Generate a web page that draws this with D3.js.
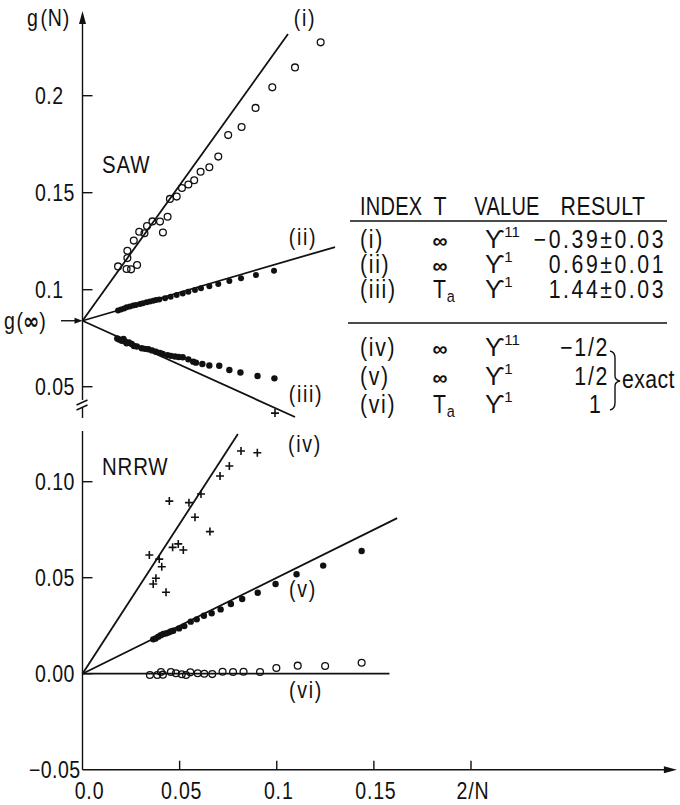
<!DOCTYPE html>
<html>
<head>
<meta charset="utf-8">
<script src="https://cdn.jsdelivr.net/npm/d3@7"></script>
<style>
  body { margin: 0; background: #fff; }
  svg { display: block; }
  text { font-family: "Liberation Sans", Arial, sans-serif; fill: #111; }
</style>
</head>
<body>
<div id="chart"></div>
<script>
// g(infinity), common intercept of the SAW fits
const gInf = 0.084;

// SAW, (i) open circles
const sawI = [
  [0.0183, 0.1120], [0.0227, 0.1107], [0.0250, 0.1105], [0.0281, 0.1127],
  [0.0231, 0.1163], [0.0231, 0.1201], [0.0264, 0.1253], [0.0292, 0.1299],
  [0.0319, 0.1291], [0.0332, 0.1328], [0.0360, 0.1352], [0.0399, 0.1351],
  [0.0414, 0.1295], [0.0438, 0.1376], [0.0450, 0.1468], [0.0485, 0.1480],
  [0.0512, 0.1524], [0.0545, 0.1542], [0.0575, 0.1564], [0.0608, 0.1608],
  [0.0653, 0.1631], [0.0699, 0.1686], [0.0750, 0.1797], [0.0819, 0.1839],
  [0.0891, 0.1937], [0.0977, 0.2043], [0.1094, 0.2146], [0.1226, 0.2275],
];
// SAW, (ii) filled dots
const sawII = [
  [0.0183, 0.0893], [0.0198, 0.0898], [0.0214, 0.0903], [0.0227, 0.0909],
  [0.0244, 0.0913], [0.0261, 0.0918], [0.0275, 0.0921], [0.0296, 0.0926],
  [0.0311, 0.0930], [0.0330, 0.0935], [0.0347, 0.0939], [0.0364, 0.0943],
  [0.0378, 0.0947], [0.0395, 0.0950], [0.0425, 0.0956], [0.0454, 0.0964],
  [0.0485, 0.0973], [0.0516, 0.0981], [0.0545, 0.0990], [0.0579, 0.0998],
  [0.0610, 0.1007], [0.0653, 0.1018], [0.0699, 0.1029], [0.0756, 0.1045],
  [0.0816, 0.1059], [0.0893, 0.1076], [0.0986, 0.1098],
];
// SAW, (iii) filled dots
const sawIII = [
  [0.0179, 0.0749], [0.0188, 0.0743], [0.0202, 0.0737], [0.0211, 0.0746],
  [0.0219, 0.0733], [0.0227, 0.0724], [0.0239, 0.0728], [0.0253, 0.0720],
  [0.0265, 0.0710], [0.0280, 0.0707], [0.0305, 0.0698], [0.0322, 0.0695],
  [0.0339, 0.0693], [0.0358, 0.0687], [0.0378, 0.0680], [0.0399, 0.0674],
  [0.0413, 0.0669], [0.0438, 0.0663], [0.0455, 0.0659], [0.0476, 0.0656],
  [0.0495, 0.0653], [0.0516, 0.0652], [0.0545, 0.0641], [0.0570, 0.0629],
  [0.0584, 0.0624], [0.0617, 0.0617], [0.0653, 0.0609], [0.0704, 0.0608],
  [0.0756, 0.0586], [0.0813, 0.0573], [0.0901, 0.0555], [0.0988, 0.0543],
];
const sawCross = [[0.0991, 0.0364]];

// NRRW, (iv) crosses
const nrrwIV = [
  [0.0900, 0.1151], [0.0816, 0.1160], [0.0756, 0.1082], [0.0708, 0.1030],
  [0.0656, 0.0740], [0.0610, 0.0936], [0.0579, 0.0815], [0.0548, 0.0891],
  [0.0519, 0.0644], [0.0493, 0.0676], [0.0464, 0.0658], [0.0447, 0.0899],
  [0.0430, 0.0424], [0.0408, 0.0557], [0.0395, 0.0597], [0.0378, 0.0497],
  [0.0364, 0.0467], [0.0344, 0.0618],
];
// NRRW, (v) filled dots
const nrrwV = [
  [0.1437, 0.0639], [0.1239, 0.0563], [0.1102, 0.0518], [0.0994, 0.0467],
  [0.0902, 0.0422], [0.0822, 0.0389], [0.0764, 0.0363], [0.0711, 0.0335],
  [0.0665, 0.0315], [0.0625, 0.0302], [0.0588, 0.0283], [0.0557, 0.0271],
  [0.0524, 0.0248], [0.0497, 0.0236], [0.0467, 0.0224], [0.0442, 0.0214],
  [0.0416, 0.0207], [0.0390, 0.0193], [0.0364, 0.0179], [0.0376, 0.0183],
  [0.0403, 0.0200], [0.0429, 0.0210], [0.0454, 0.0220],
];
// NRRW, (vi) open circles
const nrrwVI = [
  [0.1437, 0.0057], [0.1249, 0.0040], [0.1108, 0.0042], [0.0998, 0.0030],
  [0.0914, 0.0009], [0.0829, 0.0010], [0.0775, 0.0009], [0.0721, 0.0010],
  [0.0668, -0.0002], [0.0627, 0.0000], [0.0593, 0.0002], [0.0555, 0.0007],
  [0.0533, -0.0007], [0.0511, -0.0003], [0.0481, 0.0002], [0.0455, 0.0009],
  [0.0414, -0.0005], [0.0404, 0.0009], [0.0385, -0.0007], [0.0347, -0.0007],
];

// straight-line fits [x0, y0, x1, y1]
const sawFits = [
  [0, gInf, 0.1058, 0.2318],
  [0, gInf, 0.1300, 0.1220],
  [0, gInf, 0.1094, 0.0344],
];
const nrrwFits = [
  [0, 0, 0.0800, 0.1248],
  [0, 0, 0.1620, 0.0810],
  [0, 0, 0.1580, 0.0],
];

const xTicks = [0.05, 0.1, 0.15, 0.2];
const xTickLabels = ["0.0", "0.05", "0.1", "0.15", "2/N"];
const sawTicks = [0.2, 0.15, 0.1, 0.05];
const sawTickLabels = ["0.2", "0.15", "0.1", "0.05"];
const nrrwTicks = [0.1, 0.05, 0.0];
const nrrwTickLabels = ["0.10", "0.05", "0.00", "\u22120.05"];

const tableIndex = ["(i)", "(ii)", "(iii)", "(iv)", "(v)", "(vi)"];
const tableT = ["inf", "inf", "Ta", "inf", "inf", "Ta"];
const tableValueSup = ["11", "1", "1", "11", "1", "1"];
const tableResult = ["\u22120.39\u00b10.03", "0.69\u00b10.01", "1.44\u00b10.03", "\u22121/2", "1/2", "1"];

const width = 680;
const height = 805;
const ink = "#111";
const squeeze = 0.85; // condensed look of the original lettering
const labelSize = 23;

const x = d3.scaleLinear().domain([0, 0.2]).range([82.5, 471]);
const ySaw = d3.scaleLinear().domain([0.05, 0.2]).range([386.7, 95.7]);
const yNrrw = d3.scaleLinear().domain([-0.05, 0.1]).range([769.7, 481.7]);

const svg = d3
  .select("#chart")
  .append("svg")
  .attr("width", width)
  .attr("height", height);

function place(px, py, sx = squeeze) {
  return `translate(${px},${py}) scale(${sx},1)`;
}
function label(parent, px, py, s, size = labelSize, anchor = "start", ls = 0, sx = squeeze) {
  return parent
    .append("text")
    .attr("transform", place(px, py, sx))
    .attr("text-anchor", anchor)
    .attr("font-size", size)
    .attr("letter-spacing", ls)
    .text(s);
}

const axisG = svg.append("g").attr("stroke", ink).attr("stroke-width", 1.4).attr("fill", "none");
const x0 = x(0);
const yBase = yNrrw(-0.05);

// y axis, SAW part with arrow and break
axisG.append("line").attr("x1", x0).attr("x2", x0).attr("y1", 20).attr("y2", 400);
svg.append("path").attr("fill", ink)
  .attr("d", `M${x0},11L${x0 - 3.5},24L${x0 + 3.5},24Z`);
axisG.append("line").attr("x1", x0 - 6).attr("x2", x0 + 5).attr("y1", 405).attr("y2", 400);
axisG.append("line").attr("x1", x0 - 6).attr("x2", x0 + 5).attr("y1", 410).attr("y2", 405);
axisG.append("line").attr("x1", x0).attr("x2", x0).attr("y1", 408).attr("y2", 418);
// y axis, NRRW part
axisG.append("line").attr("x1", x0).attr("x2", x0).attr("y1", 431).attr("y2", yBase);
// x axis with arrow
const xEnd = x(0.306);
axisG.append("line").attr("x1", x0).attr("x2", xEnd - 8).attr("y1", yBase).attr("y2", yBase);
svg.append("path").attr("fill", ink)
  .attr("d", `M${xEnd},${yBase}L${xEnd - 13},${yBase - 3.5}L${xEnd - 13},${yBase + 3.5}Z`);

// ticks
axisG.selectAll(".xt").data(xTicks).join("line")
  .attr("x1", (d) => x(d)).attr("x2", (d) => x(d))
  .attr("y1", yBase).attr("y2", yBase - 9);
axisG.selectAll(".st").data(sawTicks).join("line")
  .attr("x1", x0).attr("x2", x0 + 10)
  .attr("y1", (d) => ySaw(d)).attr("y2", (d) => ySaw(d));
axisG.selectAll(".nt").data(nrrwTicks).join("line")
  .attr("x1", x0).attr("x2", x0 + 10)
  .attr("y1", (d) => yNrrw(d)).attr("y2", (d) => yNrrw(d));

// tick labels
svg.selectAll(".xl").data([0].concat(xTicks)).join("text")
  .attr("transform", (d, i) => place(x(d) + (i === 0 ? 7 : 2), 799))
  .attr("text-anchor", "middle").attr("font-size", labelSize)
  .attr("letter-spacing", 1)
  .text((d, i) => xTickLabels[i]);
svg.selectAll(".sl").data(sawTicks).join("text")
  .attr("transform", (d) => place(35, ySaw(d) + 8))
  .attr("font-size", labelSize).attr("letter-spacing", 0.5)
  .text((d, i) => sawTickLabels[i]);
svg.selectAll(".nl").data(nrrwTicks).join("text")
  .attr("transform", (d) => place(35, yNrrw(d) + 8))
  .attr("font-size", labelSize).attr("letter-spacing", 0.5)
  .text((d, i) => nrrwTickLabels[i]);
label(svg, x0 - 2, yBase + 8, nrrwTickLabels[3], labelSize, "end", 0.5);

// axis titles
const gn = label(svg, 27, 26, "g", labelSize, "start", 1);
gn.append("tspan").attr("dx", 2).text("(N)");
const gi = label(svg, 4, ySaw(gInf) + 8, "g", labelSize, "start", 0);
gi.append("tspan").attr("dx", 2).text("(");
gi.append("tspan").attr("font-family", "DejaVu Sans").attr("font-weight", "bold").text("\u221e");
gi.append("tspan").text(")");
axisG.append("line").attr("x1", 61).attr("x2", x0 - 5).attr("y1", ySaw(gInf)).attr("y2", ySaw(gInf));
svg.append("path").attr("fill", ink)
  .attr("d", `M${x0},${ySaw(gInf)}L${x0 - 8},${ySaw(gInf) - 3}L${x0 - 8},${ySaw(gInf) + 3}Z`);

label(svg, 102, 173, "SAW", 24, "start", 1);
label(svg, 102, 475, "NRRW", 24, "start", 1);

// fit lines
const fitsG = svg.append("g").attr("stroke", ink).attr("stroke-width", 1.8);
fitsG.selectAll(".sf").data(sawFits).join("line")
  .attr("x1", (d) => x(d[0])).attr("y1", (d) => ySaw(d[1]))
  .attr("x2", (d) => x(d[2])).attr("y2", (d) => ySaw(d[3]));
fitsG.selectAll(".nf").data(nrrwFits).join("line")
  .attr("x1", (d) => x(d[0])).attr("y1", (d) => yNrrw(d[1]))
  .attr("x2", (d) => x(d[2])).attr("y2", (d) => yNrrw(d[3]));

// markers
function openCircles(data, y) {
  svg.append("g").selectAll("circle").data(data).join("circle")
    .attr("cx", (d) => x(d[0])).attr("cy", (d) => y(d[1])).attr("r", 3.4)
    .attr("fill", "none").attr("stroke", ink).attr("stroke-width", 1.3);
}
function dots(data, y, r) {
  svg.append("g").selectAll("circle").data(data).join("circle")
    .attr("cx", (d) => x(d[0])).attr("cy", (d) => y(d[1])).attr("r", r)
    .attr("fill", ink);
}
function crosses(data, y) {
  svg.append("g").selectAll("path").data(data).join("path")
    .attr("d", (d) => `M${x(d[0]) - 4},${y(d[1])}h8M${x(d[0])},${y(d[1]) - 4}v8`)
    .attr("stroke", ink).attr("stroke-width", 1.6);
}
openCircles(sawI, ySaw);
dots(sawII, ySaw, 3);
dots(sawIII, ySaw, 3.2);
crosses(sawCross, ySaw);
crosses(nrrwIV, yNrrw);
dots(nrrwV, yNrrw, 3.2);
openCircles(nrrwVI, yNrrw);

// curve labels
const curveLabels = [
  ["(i)", 305, 26], ["(ii)", 303, 245], ["(iii)", 306, 402],
  ["(iv)", 305, 452], ["(v)", 303, 597], ["(vi)", 306, 698],
];
curveLabels.forEach((d) => label(svg, d[1], d[2], d[0], labelSize, "middle", 2));

// table
const tableSize = 25;
const tableG = svg.append("g");
label(tableG, 360, 215, "INDEX", tableSize, "start", 0.3, 0.8);
label(tableG, 440, 215, "T", tableSize, "middle");
label(tableG, 507, 215, "VALUE", tableSize, "middle", 0.3, 0.8);
label(tableG, 603, 215, "RESULT", tableSize, "middle", 0.5);
axisG.append("line").attr("x1", 350).attr("x2", 667).attr("y1", 221).attr("y2", 221);
axisG.append("line").attr("x1", 348).attr("x2", 667).attr("y1", 323).attr("y2", 323);

const rowY = [248, 273, 298, 356, 385, 413];
tableIndex.forEach((idx, i) => {
  const yy = rowY[i];
  label(tableG, 360, yy, idx, tableSize, "start", 2);
  if (tableT[i] === "inf") {
    tableG.append("text").attr("x", 440).attr("y", yy).attr("text-anchor", "middle")
      .attr("font-family", "DejaVu Sans").attr("font-weight", "bold").attr("font-size", 21)
      .text("\u221e");
  } else {
    const t = label(tableG, 433, yy, "T", tableSize);
    t.append("tspan").attr("font-size", 17).attr("dy", 4).attr("dx", 1).text("a");
  }
  const v = tableG.append("text").attr("x", 485).attr("y", yy)
    .attr("font-family", "DejaVu Sans").attr("font-size", 25);
  v.append("tspan").text("\u03d2");
  v.append("tspan").attr("font-family", "Liberation Sans").attr("font-size", 15)
    .attr("dy", -11).attr("dx", 0).text(tableValueSup[i]);
  if (i < 3) {
    label(tableG, 666, yy, tableResult[i], tableSize, "end", 3);
  } else if (i < 5) {
    label(tableG, 609, yy, tableResult[i], tableSize, "end", 2);
  } else {
    label(tableG, 595, yy, tableResult[i], tableSize, "middle");
  }
});
// brace for the exact results
svg.append("path").attr("fill", "none").attr("stroke", ink).attr("stroke-width", 1.4)
  .attr("d", "M610,351Q615,352 615,358V376Q615,380 620,381Q615,382 615,386V403Q615,409 610,410");
label(tableG, 622, 388, "exact", tableSize, "start", 0.5);
</script>
</body>
</html>
